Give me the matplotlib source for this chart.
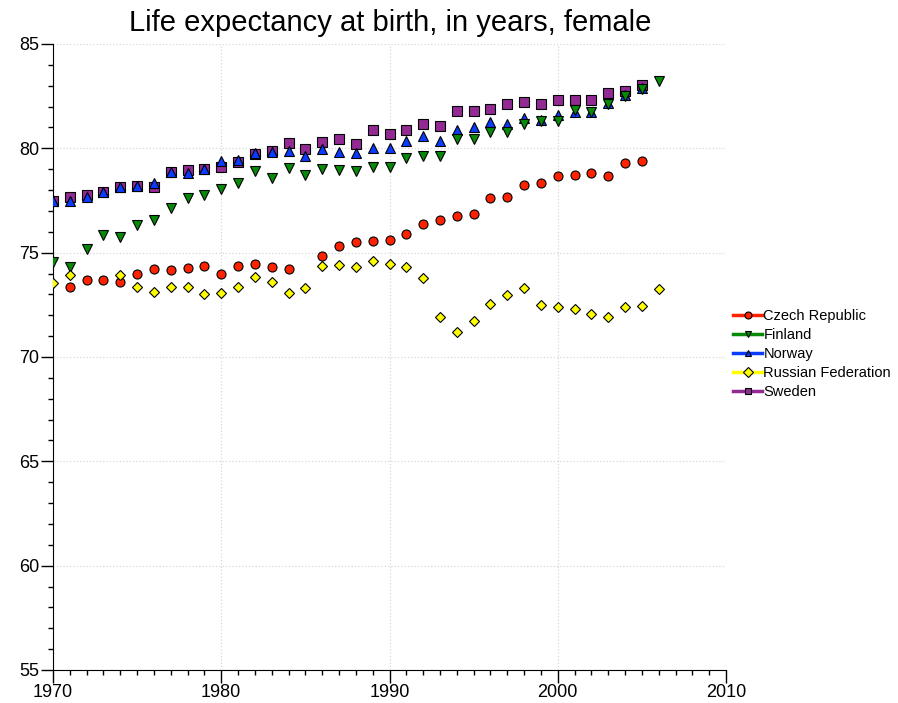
import numpy as np
import matplotlib.pyplot as plt
from matplotlib.lines import Line2D
from matplotlib.ticker import MultipleLocator

plt.rcParams['font.family'] = ['Liberation Sans', 'DejaVu Sans']

# years 1970..2006, None = no data
years = list(range(1970, 2007))

czech = [None, 73.37, 73.71, 73.68, 73.58, 73.98, 74.20, 74.19, 74.28, 74.35,
         73.96, 74.35, 74.44, 74.30, 74.22, None, 74.84, 75.34, 75.50, 75.54,
         75.59, 75.91, 76.36, 76.57, 76.77, 76.85, 77.60, 77.68, 78.23, 78.32,
         78.66, 78.71, 78.83, 78.69, 79.28, 79.38, None]
finland = [74.55, 74.33, 75.16, 75.83, 75.74, 76.33, 76.57, 77.16, 77.64, 77.76,
           78.07, 78.32, 78.90, 78.60, 79.04, 78.74, 78.99, 78.96, 78.93, 79.12,
           79.09, 79.55, 79.63, 79.63, 80.43, 80.46, 80.80, 80.77, 81.17, 81.33,
           81.33, 81.84, 81.76, 82.12, 82.51, 82.83, 83.24]
norway = [77.48, 77.49, 77.67, 77.92, 78.13, 78.20, 78.35, 78.85, 78.83, 79.01,
          79.41, 79.44, 79.79, 79.84, 79.87, 79.65, 79.97, 79.84, 79.76, 80.03,
          80.00, 80.34, 80.57, 80.37, 80.88, 81.01, 81.28, 81.17, 81.44, 81.36,
          81.58, 81.76, 81.72, 82.16, 82.56, 82.90, None]
russia = [73.53, 73.91, None, None, 73.91, 73.35, 73.12, 73.34, 73.34, 73.04,
          73.05, 73.34, 73.84, 73.60, 73.05, 73.33, 74.38, 74.42, 74.33, 74.62,
          74.44, 74.31, 73.79, 71.90, 71.20, 71.72, 72.52, 72.97, 73.29, 72.51,
          72.38, 72.30, 72.04, 71.90, 72.38, 72.43, 73.27]
sweden = [77.48, 77.65, 77.75, 77.92, 78.15, 78.19, 78.15, 78.85, 78.95, 79.01,
          79.11, 79.36, 79.73, 79.89, 80.24, 79.98, 80.32, 80.45, 80.19, 80.88,
          80.70, 80.88, 81.18, 81.07, 81.81, 81.81, 81.87, 82.14, 82.20, 82.12,
          82.30, 82.30, 82.30, 82.67, 82.75, 83.05, None]

labels = ['Czech Republic', 'Finland', 'Norway', 'Russian Federation', 'Sweden']
colors = ['#ff2200', '#078a07', '#0a3cff', '#ffff00', '#932a93']
markers = ['o', 'v', '^', 'D', 's']
sizes = [6.5, 7.5, 7.5, 5.5, 6.5]
series = [czech, finland, norway, russia, sweden]

fig = plt.figure(figsize=(8.98, 7.03), dpi=100)
ax = fig.add_axes([53/898, 1-670/703, 673/898, 626/703])

def pts(vals):
    x = [y for y, v in zip(years, vals) if v is not None]
    v = [v for v in vals if v is not None]
    return x, v

# draw order: sweden under norway, finland on top of those
for i in [4, 2, 1, 0, 3]:
    x, v = pts(series[i])
    ax.plot(x, v, linestyle='none', marker=markers[i], ms=sizes[i],
            mfc=colors[i], mec='black', mew=0.8, zorder=3)

ax.set_xlim(1970, 2010)
ax.set_ylim(55, 85)
ax.xaxis.set_major_locator(MultipleLocator(10))
ax.xaxis.set_minor_locator(MultipleLocator(1))
ax.yaxis.set_major_locator(MultipleLocator(5))
ax.yaxis.set_minor_locator(MultipleLocator(1))
ax.tick_params(which='major', length=9, width=1, direction='out', labelsize=13, pad=1)
ax.tick_params(which='minor', length=3.5, width=1, direction='out')
ax.grid(True, which='major', linestyle=':', color='#d8d8d8', linewidth=0.9)
ax.spines['top'].set_visible(False)
ax.spines['right'].set_visible(False)
ax.set_axisbelow(True)

fig.text(0.435, 1-23/703, 'Life expectancy at birth, in years, female',
         ha='center', va='center', fontsize=21)

handles = [Line2D([], [], color=c, lw=2.5, marker=m, ms=5, mfc=c, mec='black', mew=0.8)
           for c, m in zip(colors, markers)]
fig.legend(handles, labels, loc='center left', bbox_to_anchor=(726/898, 1-354/703),
           frameon=False, fontsize=10.5, handlelength=1.95, handletextpad=0.12,
           labelspacing=0.35, borderpad=0, numpoints=1)

plt.savefig('out.png', dpi=100)
